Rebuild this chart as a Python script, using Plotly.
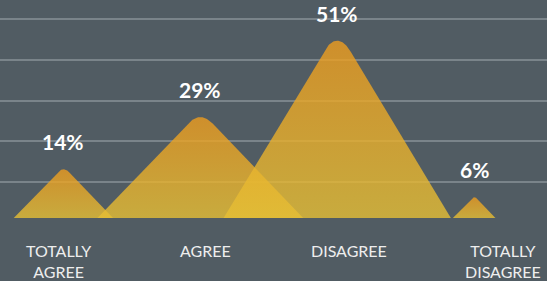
import numpy as np
import plotly.graph_objects as go

# ---- data ----
categories = ["TOTALLY<br>AGREE", "AGREE", "DISAGREE", "TOTALLY<br>DISAGREE"]
values = [14, 29, 51, 6]
value_labels = [f"{v}%" for v in values]

# ---- style ----
BG = "#515c63"
GRID = "#7a848a"
TOP_COLOR = "#ee9c1e"
BOTTOM_COLOR = "#e6bf35"
OPACITY = 0.8
HALF_WIDTH_PER_PCT = 0.0259   # peak half-width (category units) per percent
MAX_HALF_WIDTH = 0.83
CUT = 0.12                     # fraction of height rounded at the tip
label_xshift = [-5, 5, 12, 29]
FONT = "Lato"

fig = go.Figure()
t = np.linspace(0, 1, 40)
for i, v in enumerate(values):
    w = min(v * HALF_WIDTH_PER_PCT, MAX_HALF_WIDTH)
    y_cut = v * (1 - CUT)
    bx = (1 - t) ** 2 * (i - w * CUT) + 2 * (1 - t) * t * i + t ** 2 * (i + w * CUT)
    by = (1 - t) ** 2 * y_cut + 2 * (1 - t) * t * v + t ** 2 * y_cut
    xs = [i - w] + list(bx) + [i + w, i - w]
    ys = [0] + list(by) + [0, 0]
    fig.add_trace(go.Scatter(
        x=xs, y=ys, mode="lines", fill="toself",
        line=dict(width=0, color=TOP_COLOR),
        fillgradient=dict(type="vertical",
                          colorscale=[[0, BOTTOM_COLOR], [1, TOP_COLOR]]),
        opacity=OPACITY, hoverinfo="skip", showlegend=False,
    ))
    fig.add_annotation(
        x=i, y=v * (1 - CUT / 2), text=value_labels[i], showarrow=False,
        yanchor="bottom", yshift=13,
        font=dict(family=FONT, size=21, color="white", weight="bold"),
    )
    fig.add_annotation(
        x=i, y=0, text=categories[i], showarrow=False,
        yanchor="top", yshift=-21, xshift=label_xshift[i],
        font=dict(family=FONT, size=16, color="#eeeeee"),
    )

PX_PER_PCT = 3.7
PLOT_H = 218
fig.update_layout(
    width=547, height=281,
    margin=dict(l=0, r=0, t=0, b=281 - PLOT_H),
    paper_bgcolor=BG, plot_bgcolor=BG,
    xaxis=dict(range=[-0.463, 3.532], visible=False, fixedrange=True),
    yaxis=dict(range=[0, PLOT_H / PX_PER_PCT], showgrid=True, gridcolor=GRID,
               gridwidth=2, tick0=36 / PX_PER_PCT, dtick=40.75 / PX_PER_PCT,
               tickmode="linear",
               showticklabels=False, zeroline=False, showline=False,
               fixedrange=True),
)

fig.write_html("out.html",
               config={"displayModeBar": False},
               post_script="document.body.style.margin='0';"
                           "document.body.style.background='%s';" % BG)
